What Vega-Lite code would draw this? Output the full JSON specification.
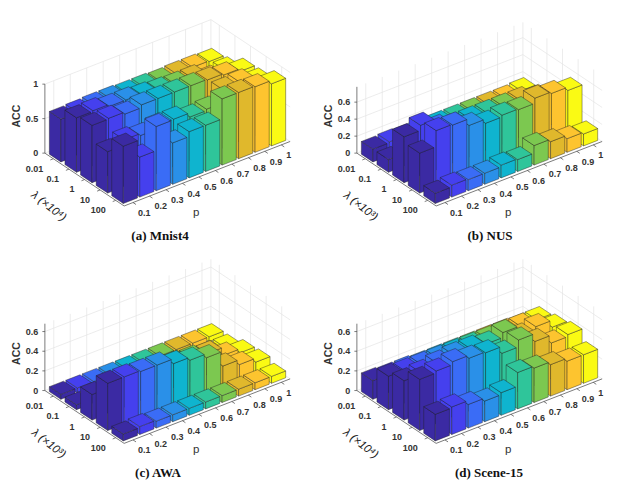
{
  "$schema": "https://vega.github.io/schema/vega-lite/v6.json",
  "background": "white",
  "padding": {"left": 0, "top": 18, "right": 0, "bottom": 0},
  "config": {"view": {"stroke": null}},
  "data": {"values": [
    {"panel":"(a) Mnist4","p":1,"lambda":0.01,"acc":0.62},{"panel":"(a) Mnist4","p":0.9,"lambda":0.01,"acc":0.63},{"panel":"(a) Mnist4","p":0.8,"lambda":0.01,"acc":0.63},{"panel":"(a) Mnist4","p":0.7,"lambda":0.01,"acc":0.62},{"panel":"(a) Mnist4","p":0.6,"lambda":0.01,"acc":0.63},{"panel":"(a) Mnist4","p":0.5,"lambda":0.01,"acc":0.63},{"panel":"(a) Mnist4","p":0.4,"lambda":0.01,"acc":0.64},{"panel":"(a) Mnist4","p":0.3,"lambda":0.01,"acc":0.64},{"panel":"(a) Mnist4","p":0.2,"lambda":0.01,"acc":0.63},{"panel":"(a) Mnist4","p":0.1,"lambda":0.01,"acc":0.62},
    {"panel":"(a) Mnist4","p":1,"lambda":0.1,"acc":0.65},{"panel":"(a) Mnist4","p":0.9,"lambda":0.1,"acc":0.62},{"panel":"(a) Mnist4","p":0.8,"lambda":0.1,"acc":0.72},{"panel":"(a) Mnist4","p":0.7,"lambda":0.1,"acc":0.72},{"panel":"(a) Mnist4","p":0.6,"lambda":0.1,"acc":0.73},{"panel":"(a) Mnist4","p":0.5,"lambda":0.1,"acc":0.75},{"panel":"(a) Mnist4","p":0.4,"lambda":0.1,"acc":0.77},{"panel":"(a) Mnist4","p":0.3,"lambda":0.1,"acc":0.77},{"panel":"(a) Mnist4","p":0.2,"lambda":0.1,"acc":0.8},{"panel":"(a) Mnist4","p":0.1,"lambda":0.1,"acc":0.79},
    {"panel":"(a) Mnist4","p":1,"lambda":1,"acc":0.78},{"panel":"(a) Mnist4","p":0.9,"lambda":1,"acc":0.82},{"panel":"(a) Mnist4","p":0.8,"lambda":1,"acc":0.84},{"panel":"(a) Mnist4","p":0.7,"lambda":1,"acc":0.85},{"panel":"(a) Mnist4","p":0.6,"lambda":1,"acc":0.85},{"panel":"(a) Mnist4","p":0.5,"lambda":1,"acc":0.85},{"panel":"(a) Mnist4","p":0.4,"lambda":1,"acc":0.85},{"panel":"(a) Mnist4","p":0.3,"lambda":1,"acc":0.81},{"panel":"(a) Mnist4","p":0.2,"lambda":1,"acc":0.84},{"panel":"(a) Mnist4","p":0.1,"lambda":1,"acc":0.83},
    {"panel":"(a) Mnist4","p":1,"lambda":10,"acc":0.79},{"panel":"(a) Mnist4","p":0.9,"lambda":10,"acc":0.87},{"panel":"(a) Mnist4","p":0.8,"lambda":10,"acc":0.85},{"panel":"(a) Mnist4","p":0.7,"lambda":10,"acc":0.66},{"panel":"(a) Mnist4","p":0.6,"lambda":10,"acc":0.64},{"panel":"(a) Mnist4","p":0.5,"lambda":10,"acc":0.7},{"panel":"(a) Mnist4","p":0.4,"lambda":10,"acc":0.7},{"panel":"(a) Mnist4","p":0.3,"lambda":10,"acc":0.65},{"panel":"(a) Mnist4","p":0.2,"lambda":10,"acc":0.68},{"panel":"(a) Mnist4","p":0.1,"lambda":10,"acc":0.6},
    {"panel":"(a) Mnist4","p":1,"lambda":100,"acc":0.9},{"panel":"(a) Mnist4","p":0.9,"lambda":100,"acc":0.95},{"panel":"(a) Mnist4","p":0.8,"lambda":100,"acc":0.96},{"panel":"(a) Mnist4","p":0.7,"lambda":100,"acc":0.96},{"panel":"(a) Mnist4","p":0.6,"lambda":100,"acc":0.67},{"panel":"(a) Mnist4","p":0.5,"lambda":100,"acc":0.67},{"panel":"(a) Mnist4","p":0.4,"lambda":100,"acc":0.6},{"panel":"(a) Mnist4","p":0.3,"lambda":100,"acc":0.93},{"panel":"(a) Mnist4","p":0.2,"lambda":100,"acc":0.58},{"panel":"(a) Mnist4","p":0.1,"lambda":100,"acc":0.83},

    {"panel":"(b) NUS","p":1,"lambda":0.01,"acc":0.16},{"panel":"(b) NUS","p":0.9,"lambda":0.01,"acc":0.15},{"panel":"(b) NUS","p":0.8,"lambda":0.01,"acc":0.15},{"panel":"(b) NUS","p":0.7,"lambda":0.01,"acc":0.15},{"panel":"(b) NUS","p":0.6,"lambda":0.01,"acc":0.15},{"panel":"(b) NUS","p":0.5,"lambda":0.01,"acc":0.15},{"panel":"(b) NUS","p":0.4,"lambda":0.01,"acc":0.15},{"panel":"(b) NUS","p":0.3,"lambda":0.01,"acc":0.15},{"panel":"(b) NUS","p":0.2,"lambda":0.01,"acc":0.16},{"panel":"(b) NUS","p":0.1,"lambda":0.01,"acc":0.15},
    {"panel":"(b) NUS","p":1,"lambda":0.1,"acc":0.15},{"panel":"(b) NUS","p":0.9,"lambda":0.1,"acc":0.15},{"panel":"(b) NUS","p":0.8,"lambda":0.1,"acc":0.17},{"panel":"(b) NUS","p":0.7,"lambda":0.1,"acc":0.15},{"panel":"(b) NUS","p":0.6,"lambda":0.1,"acc":0.15},{"panel":"(b) NUS","p":0.5,"lambda":0.1,"acc":0.15},{"panel":"(b) NUS","p":0.4,"lambda":0.1,"acc":0.15},{"panel":"(b) NUS","p":0.3,"lambda":0.1,"acc":0.15},{"panel":"(b) NUS","p":0.2,"lambda":0.1,"acc":0.15},{"panel":"(b) NUS","p":0.1,"lambda":0.1,"acc":0.15},
    {"panel":"(b) NUS","p":1,"lambda":1,"acc":0.35},{"panel":"(b) NUS","p":0.9,"lambda":1,"acc":0.4},{"panel":"(b) NUS","p":0.8,"lambda":1,"acc":0.45},{"panel":"(b) NUS","p":0.7,"lambda":1,"acc":0.45},{"panel":"(b) NUS","p":0.6,"lambda":1,"acc":0.45},{"panel":"(b) NUS","p":0.5,"lambda":1,"acc":0.45},{"panel":"(b) NUS","p":0.4,"lambda":1,"acc":0.45},{"panel":"(b) NUS","p":0.3,"lambda":1,"acc":0.5},{"panel":"(b) NUS","p":0.2,"lambda":1,"acc":0.6},{"panel":"(b) NUS","p":0.1,"lambda":1,"acc":0.54},
    {"panel":"(b) NUS","p":1,"lambda":10,"acc":0.53},{"panel":"(b) NUS","p":0.9,"lambda":10,"acc":0.57},{"panel":"(b) NUS","p":0.8,"lambda":10,"acc":0.59},{"panel":"(b) NUS","p":0.7,"lambda":10,"acc":0.53},{"panel":"(b) NUS","p":0.6,"lambda":10,"acc":0.54},{"panel":"(b) NUS","p":0.5,"lambda":10,"acc":0.52},{"panel":"(b) NUS","p":0.4,"lambda":10,"acc":0.57},{"panel":"(b) NUS","p":0.3,"lambda":10,"acc":0.65},{"panel":"(b) NUS","p":0.2,"lambda":10,"acc":0.66},{"panel":"(b) NUS","p":0.1,"lambda":10,"acc":0.47},
    {"panel":"(b) NUS","p":1,"lambda":100,"acc":0.14},{"panel":"(b) NUS","p":0.9,"lambda":100,"acc":0.16},{"panel":"(b) NUS","p":0.8,"lambda":100,"acc":0.2},{"panel":"(b) NUS","p":0.7,"lambda":100,"acc":0.23},{"panel":"(b) NUS","p":0.6,"lambda":100,"acc":0.14},{"panel":"(b) NUS","p":0.5,"lambda":100,"acc":0.15},{"panel":"(b) NUS","p":0.4,"lambda":100,"acc":0.13},{"panel":"(b) NUS","p":0.3,"lambda":100,"acc":0.13},{"panel":"(b) NUS","p":0.2,"lambda":100,"acc":0.14},{"panel":"(b) NUS","p":0.1,"lambda":100,"acc":0.12},

    {"panel":"(c) AWA","p":1,"lambda":0.01,"acc":0.05},{"panel":"(c) AWA","p":0.9,"lambda":0.01,"acc":0.05},{"panel":"(c) AWA","p":0.8,"lambda":0.01,"acc":0.05},{"panel":"(c) AWA","p":0.7,"lambda":0.01,"acc":0.05},{"panel":"(c) AWA","p":0.6,"lambda":0.01,"acc":0.05},{"panel":"(c) AWA","p":0.5,"lambda":0.01,"acc":0.05},{"panel":"(c) AWA","p":0.4,"lambda":0.01,"acc":0.05},{"panel":"(c) AWA","p":0.3,"lambda":0.01,"acc":0.05},{"panel":"(c) AWA","p":0.2,"lambda":0.01,"acc":0.05},{"panel":"(c) AWA","p":0.1,"lambda":0.01,"acc":0.05},
    {"panel":"(c) AWA","p":1,"lambda":0.1,"acc":0.05},{"panel":"(c) AWA","p":0.9,"lambda":0.1,"acc":0.05},{"panel":"(c) AWA","p":0.8,"lambda":0.1,"acc":0.05},{"panel":"(c) AWA","p":0.7,"lambda":0.1,"acc":0.05},{"panel":"(c) AWA","p":0.6,"lambda":0.1,"acc":0.05},{"panel":"(c) AWA","p":0.5,"lambda":0.1,"acc":0.05},{"panel":"(c) AWA","p":0.4,"lambda":0.1,"acc":0.05},{"panel":"(c) AWA","p":0.3,"lambda":0.1,"acc":0.05},{"panel":"(c) AWA","p":0.2,"lambda":0.1,"acc":0.05},{"panel":"(c) AWA","p":0.1,"lambda":0.1,"acc":0.05},
    {"panel":"(c) AWA","p":1,"lambda":1,"acc":0.1},{"panel":"(c) AWA","p":0.9,"lambda":1,"acc":0.14},{"panel":"(c) AWA","p":0.8,"lambda":1,"acc":0.22},{"panel":"(c) AWA","p":0.7,"lambda":1,"acc":0.24},{"panel":"(c) AWA","p":0.6,"lambda":1,"acc":0.25},{"panel":"(c) AWA","p":0.5,"lambda":1,"acc":0.27},{"panel":"(c) AWA","p":0.4,"lambda":1,"acc":0.27},{"panel":"(c) AWA","p":0.3,"lambda":1,"acc":0.27},{"panel":"(c) AWA","p":0.2,"lambda":1,"acc":0.27},{"panel":"(c) AWA","p":0.1,"lambda":1,"acc":0.26},
    {"panel":"(c) AWA","p":1,"lambda":10,"acc":0.11},{"panel":"(c) AWA","p":0.9,"lambda":10,"acc":0.15},{"panel":"(c) AWA","p":0.8,"lambda":10,"acc":0.2},{"panel":"(c) AWA","p":0.7,"lambda":10,"acc":0.35},{"panel":"(c) AWA","p":0.6,"lambda":10,"acc":0.39},{"panel":"(c) AWA","p":0.5,"lambda":10,"acc":0.42},{"panel":"(c) AWA","p":0.4,"lambda":10,"acc":0.47},{"panel":"(c) AWA","p":0.3,"lambda":10,"acc":0.47},{"panel":"(c) AWA","p":0.2,"lambda":10,"acc":0.48},{"panel":"(c) AWA","p":0.1,"lambda":10,"acc":0.48},
    {"panel":"(c) AWA","p":1,"lambda":100,"acc":0.07},{"panel":"(c) AWA","p":0.9,"lambda":100,"acc":0.07},{"panel":"(c) AWA","p":0.8,"lambda":100,"acc":0.07},{"panel":"(c) AWA","p":0.7,"lambda":100,"acc":0.07},{"panel":"(c) AWA","p":0.6,"lambda":100,"acc":0.07},{"panel":"(c) AWA","p":0.5,"lambda":100,"acc":0.07},{"panel":"(c) AWA","p":0.4,"lambda":100,"acc":0.07},{"panel":"(c) AWA","p":0.3,"lambda":100,"acc":0.07},{"panel":"(c) AWA","p":0.2,"lambda":100,"acc":0.08},{"panel":"(c) AWA","p":0.1,"lambda":100,"acc":0.07},

    {"panel":"(d) Scene-15","p":1,"lambda":0.01,"acc":0.16},{"panel":"(d) Scene-15","p":0.9,"lambda":0.01,"acc":0.17},{"panel":"(d) Scene-15","p":0.8,"lambda":0.01,"acc":0.17},{"panel":"(d) Scene-15","p":0.7,"lambda":0.01,"acc":0.17},{"panel":"(d) Scene-15","p":0.6,"lambda":0.01,"acc":0.17},{"panel":"(d) Scene-15","p":0.5,"lambda":0.01,"acc":0.17},{"panel":"(d) Scene-15","p":0.4,"lambda":0.01,"acc":0.17},{"panel":"(d) Scene-15","p":0.3,"lambda":0.01,"acc":0.18},{"panel":"(d) Scene-15","p":0.2,"lambda":0.01,"acc":0.18},{"panel":"(d) Scene-15","p":0.1,"lambda":0.01,"acc":0.19},
    {"panel":"(d) Scene-15","p":1,"lambda":0.1,"acc":0.33},{"panel":"(d) Scene-15","p":0.9,"lambda":0.1,"acc":0.33},{"panel":"(d) Scene-15","p":0.8,"lambda":0.1,"acc":0.33},{"panel":"(d) Scene-15","p":0.7,"lambda":0.1,"acc":0.33},{"panel":"(d) Scene-15","p":0.6,"lambda":0.1,"acc":0.33},{"panel":"(d) Scene-15","p":0.5,"lambda":0.1,"acc":0.33},{"panel":"(d) Scene-15","p":0.4,"lambda":0.1,"acc":0.33},{"panel":"(d) Scene-15","p":0.3,"lambda":0.1,"acc":0.33},{"panel":"(d) Scene-15","p":0.2,"lambda":0.1,"acc":0.33},{"panel":"(d) Scene-15","p":0.1,"lambda":0.1,"acc":0.34},
    {"panel":"(d) Scene-15","p":1,"lambda":1,"acc":0.36},{"panel":"(d) Scene-15","p":0.9,"lambda":1,"acc":0.43},{"panel":"(d) Scene-15","p":0.8,"lambda":1,"acc":0.4},{"panel":"(d) Scene-15","p":0.7,"lambda":1,"acc":0.5},{"panel":"(d) Scene-15","p":0.6,"lambda":1,"acc":0.45},{"panel":"(d) Scene-15","p":0.5,"lambda":1,"acc":0.47},{"panel":"(d) Scene-15","p":0.4,"lambda":1,"acc":0.47},{"panel":"(d) Scene-15","p":0.3,"lambda":1,"acc":0.45},{"panel":"(d) Scene-15","p":0.2,"lambda":1,"acc":0.42},{"panel":"(d) Scene-15","p":0.1,"lambda":1,"acc":0.4},
    {"panel":"(d) Scene-15","p":1,"lambda":10,"acc":0.39},{"panel":"(d) Scene-15","p":0.9,"lambda":10,"acc":0.37},{"panel":"(d) Scene-15","p":0.8,"lambda":10,"acc":0.45},{"panel":"(d) Scene-15","p":0.7,"lambda":10,"acc":0.53},{"panel":"(d) Scene-15","p":0.6,"lambda":10,"acc":0.46},{"panel":"(d) Scene-15","p":0.5,"lambda":10,"acc":0.53},{"panel":"(d) Scene-15","p":0.4,"lambda":10,"acc":0.54},{"panel":"(d) Scene-15","p":0.3,"lambda":10,"acc":0.57},{"panel":"(d) Scene-15","p":0.2,"lambda":10,"acc":0.54},{"panel":"(d) Scene-15","p":0.1,"lambda":10,"acc":0.52},
    {"panel":"(d) Scene-15","p":1,"lambda":100,"acc":0.29},{"panel":"(d) Scene-15","p":0.9,"lambda":100,"acc":0.29},{"panel":"(d) Scene-15","p":0.8,"lambda":100,"acc":0.32},{"panel":"(d) Scene-15","p":0.7,"lambda":100,"acc":0.35},{"panel":"(d) Scene-15","p":0.6,"lambda":100,"acc":0.37},{"panel":"(d) Scene-15","p":0.5,"lambda":100,"acc":0.23},{"panel":"(d) Scene-15","p":0.4,"lambda":100,"acc":0.21},{"panel":"(d) Scene-15","p":0.3,"lambda":100,"acc":0.24},{"panel":"(d) Scene-15","p":0.2,"lambda":100,"acc":0.28},{"panel":"(d) Scene-15","p":0.1,"lambda":100,"acc":0.27},

    {"panel":"(a) Mnist4","tick":0},{"panel":"(a) Mnist4","tick":0.5},{"panel":"(a) Mnist4","tick":1},
    {"panel":"(b) NUS","tick":0},{"panel":"(b) NUS","tick":0.2},{"panel":"(b) NUS","tick":0.4},{"panel":"(b) NUS","tick":0.6},
    {"panel":"(c) AWA","tick":0},{"panel":"(c) AWA","tick":0.2},{"panel":"(c) AWA","tick":0.4},{"panel":"(c) AWA","tick":0.6},
    {"panel":"(d) Scene-15","tick":0},{"panel":"(d) Scene-15","tick":0.2},{"panel":"(d) Scene-15","tick":0.4},{"panel":"(d) Scene-15","tick":0.6}
  ]},
  "transform": [
    {"calculate": "{'(a) Mnist4':69,'(b) NUS':85,'(c) AWA':98.3,'(d) Scene-15':98.3}[datum.panel]", "as": "k"},
    {"calculate": "{'(a) Mnist4':1,'(b) NUS':0.78,'(c) AWA':0.68,'(d) Scene-15':0.68}[datum.panel]", "as": "zmax"},
    {"calculate": "{'(a) Mnist4':0,'(b) NUS':0,'(c) AWA':1,'(d) Scene-15':1}[datum.panel]", "as": "fig_row"},
    {"calculate": "{'(a) Mnist4':0,'(b) NUS':1,'(c) AWA':0,'(d) Scene-15':1}[datum.panel]", "as": "fig_col"},
    {"calculate": "round(datum.p*10)-1", "as": "u"},
    {"calculate": "round(log(datum.lambda)/LN10)+2", "as": "v"}
  ],
  "facet": {
    "row": {"field": "fig_row", "type": "ordinal", "header": null},
    "column": {"field": "fig_col", "type": "ordinal", "header": null}
  },
  "spacing": {"column": 12, "row": 12.4},
  "spec": {
    "width": 300,
    "height": 222,
    "encoding": {
      "x": {"field": "x", "type": "quantitative", "scale": {"domain": [0, 300]}, "axis": null},
      "y": {"field": "y", "type": "quantitative", "scale": {"domain": [222, 0]}, "axis": null}
    },
    "layer": [
      {
        "transform": [
          {"filter": "datum.lambda==100"},
          {"calculate": "62.2+16.47*datum.u+15.6*-0.54", "as": "x"},
          {"calculate": "137.3-6.4*datum.u+10.4*-0.54", "as": "y"},
          {"calculate": "datum.y-datum.k*datum.zmax", "as": "y2"}
        ],
        "mark": {"type": "rule", "color": "#e4e4e4", "strokeWidth": 0.7},
        "encoding": {"y2": {"field": "y2"}}
      },
      {
        "transform": [
          {"filter": "datum.p==1"},
          {"calculate": "62.2+16.47*9.54+15.6*datum.v", "as": "x"},
          {"calculate": "137.3-6.4*9.54+10.4*datum.v", "as": "y"},
          {"calculate": "datum.y-datum.k*datum.zmax", "as": "y2"}
        ],
        "mark": {"type": "rule", "color": "#e4e4e4", "strokeWidth": 0.7},
        "encoding": {"y2": {"field": "y2"}}
      },
      {
        "transform": [
          {"filter": "datum.p==1&&datum.lambda==0.01"},
          {"calculate": "62.2+16.47*9.54+15.6*-0.54", "as": "x"},
          {"calculate": "137.3-6.4*9.54+10.4*-0.54", "as": "y"},
          {"calculate": "datum.y-datum.k*datum.zmax", "as": "y2"}
        ],
        "mark": {"type": "rule", "color": "#e4e4e4", "strokeWidth": 0.7},
        "encoding": {"y2": {"field": "y2"}}
      },
      {
        "transform": [
          {"filter": "isValid(datum.tick)"},
          {"calculate": "62.2+15.6*-0.54+16.47*-0.54", "as": "x"},
          {"calculate": "137.3+10.4*-0.54-6.4*-0.54-datum.k*datum.tick", "as": "y"},
          {"calculate": "62.2+15.6*-0.54+16.47*9.54", "as": "x2"},
          {"calculate": "137.3+10.4*-0.54-6.4*9.54-datum.k*datum.tick", "as": "y2"}
        ],
        "mark": {"type": "rule", "color": "#e4e4e4", "strokeWidth": 0.7},
        "encoding": {"x2": {"field": "x2"}, "y2": {"field": "y2"}}
      },
      {
        "transform": [
          {"filter": "isValid(datum.tick)"},
          {"calculate": "62.2+16.47*9.54+15.6*-0.54", "as": "x"},
          {"calculate": "137.3-6.4*9.54+10.4*-0.54-datum.k*datum.tick", "as": "y"},
          {"calculate": "62.2+16.47*9.54+15.6*4.54", "as": "x2"},
          {"calculate": "137.3-6.4*9.54+10.4*4.54-datum.k*datum.tick", "as": "y2"}
        ],
        "mark": {"type": "rule", "color": "#e4e4e4", "strokeWidth": 0.7},
        "encoding": {"x2": {"field": "x2"}, "y2": {"field": "y2"}}
      },
      {
        "transform": [
          {"filter": "isValid(datum.acc)"},
          {"calculate": "[0,1,2]", "as": "face"},
          {"flatten": ["face"]},
          {"calculate": "[0,1,2,3,4]", "as": "n"},
          {"flatten": ["n"]},
          {"calculate": "[[[-1,-1,0],[-1,1,0],[-1,1,1],[-1,-1,1],[-1,-1,0]],[[-1,1,0],[1,1,0],[1,1,1],[-1,1,1],[-1,1,0]],[[-1,-1,1],[-1,1,1],[1,1,1],[1,-1,1],[-1,-1,1]]][datum.face][datum.n]", "as": "c"},
          {"calculate": "datum.u+0.43*datum.c[0]", "as": "cu"},
          {"calculate": "datum.v+0.37*datum.c[1]", "as": "cv"},
          {"calculate": "62.2+16.47*datum.cu+15.6*datum.cv", "as": "x"},
          {"calculate": "137.3-6.4*datum.cu+10.4*datum.cv-datum.k*datum.acc*datum.c[2]", "as": "y"},
          {"calculate": "datum.p+'_'+datum.lambda+'_'+datum.face", "as": "id"}
        ],
        "mark": {"type": "line", "stroke": "#222222", "strokeWidth": 0.5, "strokeOpacity": 0.85},
        "encoding": {
          "detail": {"field": "id"},
          "order": {"field": "n", "type": "quantitative"},
          "fill": {
            "field": "p",
            "type": "ordinal",
            "legend": null,
            "scale": {
              "domain": [0.1, 0.2, 0.3, 0.4, 0.5, 0.6, 0.7, 0.8, 0.9, 1],
              "range": ["#3b2aa3", "#4540ee", "#3a6cf6", "#2a90e8", "#0fb4cf", "#2fc59a", "#7cc850", "#e0b82c", "#fdc42f", "#fafa14"]
            }
          }
        }
      },
      {
        "transform": [
          {"filter": "datum.p==0.1&&datum.lambda==0.01"},
          {"calculate": "62.2+16.47*-0.54+15.6*-0.54", "as": "x"},
          {"calculate": "137.3-6.4*-0.54+10.4*-0.54", "as": "y"},
          {"calculate": "datum.y-datum.k*datum.zmax", "as": "y2"}
        ],
        "mark": {"type": "rule", "color": "#444444", "strokeWidth": 0.7},
        "encoding": {"y2": {"field": "y2"}}
      },
      {
        "transform": [
          {"filter": "datum.p==0.1&&datum.lambda==0.01"},
          {"calculate": "62.2+16.47*-0.54+15.6*-0.54", "as": "x"},
          {"calculate": "137.3-6.4*-0.54+10.4*-0.54", "as": "y"},
          {"calculate": "62.2+16.47*-0.54+15.6*4.54", "as": "x2"},
          {"calculate": "137.3-6.4*-0.54+10.4*4.54", "as": "y2"}
        ],
        "mark": {"type": "rule", "color": "#444444", "strokeWidth": 0.7},
        "encoding": {"x2": {"field": "x2"}, "y2": {"field": "y2"}}
      },
      {
        "transform": [
          {"filter": "datum.p==0.1&&datum.lambda==0.01"},
          {"calculate": "62.2+16.47*-0.54+15.6*4.54", "as": "x"},
          {"calculate": "137.3-6.4*-0.54+10.4*4.54", "as": "y"},
          {"calculate": "62.2+16.47*9.54+15.6*4.54", "as": "x2"},
          {"calculate": "137.3-6.4*9.54+10.4*4.54", "as": "y2"}
        ],
        "mark": {"type": "rule", "color": "#444444", "strokeWidth": 0.7},
        "encoding": {"x2": {"field": "x2"}, "y2": {"field": "y2"}}
      },
      {
        "transform": [
          {"filter": "isValid(datum.tick)"},
          {"calculate": "62.2+16.47*-0.54+15.6*-0.54", "as": "x"},
          {"calculate": "137.3-6.4*-0.54+10.4*-0.54-datum.k*datum.tick", "as": "y"},
          {"calculate": "datum.x-2.5", "as": "x2"},
          {"calculate": "datum.y", "as": "y2"}
        ],
        "mark": {"type": "rule", "color": "#444444", "strokeWidth": 0.7},
        "encoding": {"x2": {"field": "x2"}, "y2": {"field": "y2"}}
      },
      {
        "transform": [
          {"filter": "datum.lambda==100"},
          {"calculate": "62.2+16.47*datum.u+15.6*4.54", "as": "x"},
          {"calculate": "137.3-6.4*datum.u+10.4*4.54", "as": "y"},
          {"calculate": "datum.x+3", "as": "x2"},
          {"calculate": "datum.y+2", "as": "y2"}
        ],
        "mark": {"type": "rule", "color": "#444444", "strokeWidth": 0.7},
        "encoding": {"x2": {"field": "x2"}, "y2": {"field": "y2"}}
      },
      {
        "transform": [
          {"filter": "datum.p==0.1"},
          {"calculate": "62.2+16.47*-0.54+15.6*datum.v", "as": "x"},
          {"calculate": "137.3-6.4*-0.54+10.4*datum.v", "as": "y"},
          {"calculate": "datum.x-3", "as": "x2"},
          {"calculate": "datum.y+1.2", "as": "y2"}
        ],
        "mark": {"type": "rule", "color": "#444444", "strokeWidth": 0.7},
        "encoding": {"x2": {"field": "x2"}, "y2": {"field": "y2"}}
      },
      {
        "transform": [
          {"filter": "isValid(datum.tick)"},
          {"calculate": "62.2+16.47*-0.54+15.6*-0.54-6.7", "as": "x"},
          {"calculate": "137.3-6.4*-0.54+10.4*-0.54-datum.k*datum.tick", "as": "y"}
        ],
        "mark": {"type": "text", "font": "Liberation Sans", "fontSize": 9, "fontWeight": "bold", "color": "#333333", "align": "right", "baseline": "middle"},
        "encoding": {"text": {"field": "tick", "type": "nominal"}}
      },
      {
        "transform": [
          {"filter": "datum.lambda==100"},
          {"calculate": "62.2+16.47*datum.u+15.6*4.54+5", "as": "x"},
          {"calculate": "137.3-6.4*datum.u+10.4*4.54+10.3", "as": "y"}
        ],
        "mark": {"type": "text", "font": "Liberation Sans", "fontSize": 9, "fontWeight": "bold", "color": "#333333", "align": "left", "baseline": "middle"},
        "encoding": {"text": {"field": "p", "type": "nominal"}}
      },
      {
        "transform": [
          {"filter": "datum.p==0.1"},
          {"calculate": "62.2+16.47*-0.54+15.6*datum.v-10", "as": "x"},
          {"calculate": "137.3-6.4*-0.54+10.4*datum.v+9.8", "as": "y"}
        ],
        "mark": {"type": "text", "font": "Liberation Sans", "fontSize": 9, "fontWeight": "bold", "color": "#333333", "align": "right", "baseline": "middle"},
        "encoding": {"text": {"field": "lambda", "type": "nominal"}}
      },
      {
        "transform": [
          {"filter": "datum.p==0.1&&datum.lambda==0.01"},
          {"calculate": "17", "as": "x"},
          {"calculate": "137.3-6.4*-0.54+10.4*-0.54-33-4", "as": "y"},
          {"calculate": "'ACC'", "as": "label"}
        ],
        "mark": {"type": "text", "font": "Liberation Sans", "fontSize": 10.5, "fontWeight": "bold", "color": "#333333", "angle": 270, "align": "center", "baseline": "middle"},
        "encoding": {"text": {"field": "label"}}
      },
      {
        "transform": [
          {"filter": "datum.lambda==100&&datum.p==0.5"},
          {"calculate": "62.2+16.47*4.5+15.6*4.54-11", "as": "x"},
          {"calculate": "137.3-6.4*4.5+10.4*4.54+39", "as": "y"},
          {"calculate": "'p'", "as": "label"}
        ],
        "mark": {"type": "text", "font": "Liberation Sans", "fontSize": 11.5, "color": "#333333", "align": "center", "baseline": "middle"},
        "encoding": {"text": {"field": "label"}}
      },
      {
        "transform": [
          {"filter": "datum.p==0.1&&datum.lambda==0.01"},
          {"calculate": "62.2+16.47*-0.54+15.6*2-36", "as": "x"},
          {"calculate": "137.3-6.4*-0.54+10.4*2+27", "as": "y"},
          {"calculate": "{'(a) Mnist4':'λ (×10⁴)','(b) NUS':'λ (×10³)','(c) AWA':'λ (×10³)','(d) Scene-15':'λ (×10⁴)'}[datum.panel]", "as": "label"}
        ],
        "mark": {"type": "text", "font": "Liberation Sans", "fontStyle": "italic", "fontSize": 11.5, "color": "#222222", "angle": 38, "align": "center", "baseline": "middle"},
        "encoding": {"text": {"field": "label"}}
      },
      {
        "transform": [
          {"filter": "datum.p==0.1&&datum.lambda==0.01"},
          {"calculate": "{'(a) Mnist4':160,'(b) NUS':178,'(c) AWA':158,'(d) Scene-15':177}[datum.panel]", "as": "x"},
          {"calculate": "218", "as": "y"}
        ],
        "mark": {"type": "text", "font": "Liberation Serif", "fontSize": 13, "fontWeight": "bold", "color": "#111111", "align": "center", "baseline": "middle"},
        "encoding": {"text": {"field": "panel"}}
      }
    ]
  }
}
